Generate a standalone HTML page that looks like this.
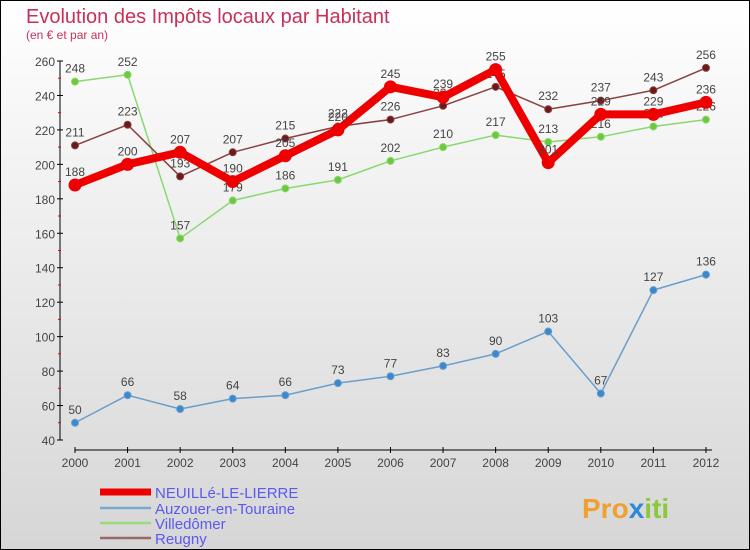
<!DOCTYPE html>
<html><head><meta charset="utf-8"><style>
body{margin:0;width:750px;height:550px;overflow:hidden;font-family:"Liberation Sans",sans-serif}
svg{display:block}
</style></head><body>
<svg id="c" width="750" height="550">
<defs><linearGradient id="bg" x1="0" y1="0" x2="0" y2="1"><stop offset="0" stop-color="#ffffff"/><stop offset="1" stop-color="#d6d6d6"/></linearGradient></defs>
<rect x="0.5" y="0.5" width="749" height="549" fill="url(#bg)" stroke="#000"/>
<text x="26" y="23" font-size="20" fill="#c8305a">Evolution des Impôts locaux par Habitant</text>
<text x="26" y="39" font-size="12" fill="#c8305a">(en € et par an)</text>
<g id="axes"></g><g id="series"></g><g id="legend"></g>
<text x="582" y="518" font-size="28" font-weight="bold" fill="#f0a030">Pro<tspan fill="#2a8ad8">x</tspan><tspan fill="#8cc83c">iti</tspan></text>
</svg>
<script>
const years=[2000,2001,2002,2003,2004,2005,2006,2007,2008,2009,2010,2011,2012];
const yTicks=[40,60,80,100,120,140,160,180,200,220,240,260];
const neuille=[188,200,207,190,205,220,245,239,255,201,229,229,236];
const auzouer=[50,66,58,64,66,73,77,83,90,103,67,127,136];
const villedomer=[248,252,157,179,186,191,202,210,217,213,216,222,226];
const reugny=[211,223,193,207,215,222,226,234,245,232,237,243,256];
const NS="http://www.w3.org/2000/svg";
const xs=i=>75+i*52.58;
const ys=v=>440-(v-40)*(379/220);
function mk(t,a,p){const e=document.createElementNS(NS,t);for(const k in a)e.setAttribute(k,a[k]);p.appendChild(e);return e;}
const ax=document.getElementById('axes');
let l=mk('line',{x1:60,y1:61,x2:60,y2:440,stroke:'#000'},ax);


l=mk('line',{x1:75,y1:450,x2:712,y2:450,stroke:'#000'},ax);


yTicks.forEach((v,k)=>{const y=ys(v);
 mk('line',{x1:57,y1:y,x2:63,y2:y,stroke:'#000'},ax);
 if(k>0) mk('line',{x1:58,y1:y+17.2,x2:61,y2:y+17.2,stroke:'#e00'},ax);
 const t=mk('text',{x:55,y:y+5,'text-anchor':'end','font-size':12,fill:'#444'},ax);t.textContent=v;
 
 });
years.forEach((yr,i)=>{const x=xs(i);
 mk('line',{x1:x,y1:447,x2:x,y2:453,stroke:'#000'},ax);
 const t=mk('text',{x:x,y:467,'text-anchor':'middle','font-size':12,fill:'#444'},ax);t.textContent=yr;
 
 });
const sg=document.getElementById('series');
function series(data,color,w,r,fill,name){
 const g=mk('g',{},sg);
 
 
 mk('polyline',{points:data.map((v,i)=>xs(i)+','+ys(v)).join(' '),fill:'none',stroke:color,'stroke-width':w,'stroke-linejoin':'round'},g);
 data.forEach((v,i)=>{const c=mk('circle',{cx:xs(i),cy:ys(v),r:r,fill:fill,stroke:color,'stroke-width':1},g);
  
  
  const t=mk('text',{x:xs(i),y:ys(v)-9,'text-anchor':'middle','font-size':12,fill:'#444'},g);t.textContent=v;});
}
series(auzouer,'#6a9ecb',1.5,3.5,'#3a88d0','series-auzouer');
series(villedomer,'#8ad870',1.5,3.5,'#6cc83c','series-villedomer');
series(reugny,'#8a4040',1.5,3.5,'#6a1a1a','series-reugny');
series(neuille,'#ee0000',8,6,'#ee0000','series-neuille');
const lg=document.getElementById('legend');
[['NEUILLé-LE-LIERRE','#ee0000',7,492],['Auzouer-en-Touraine','#7aa8cc',2.5,508],['Villedômer','#9ad880',2.5,523],['Reugny','#9a6868',2.5,538]].forEach(d=>{
 const g=mk('g',{},lg);
 
 
 mk('line',{x1:100,y1:d[3],x2:151,y2:d[3],stroke:d[1],'stroke-width':d[2]},g);
 const t=mk('text',{x:155,y:d[3]+6,'font-size':15,fill:'#5a5aee'},g);t.textContent=d[0];});
</script>
</body></html>
